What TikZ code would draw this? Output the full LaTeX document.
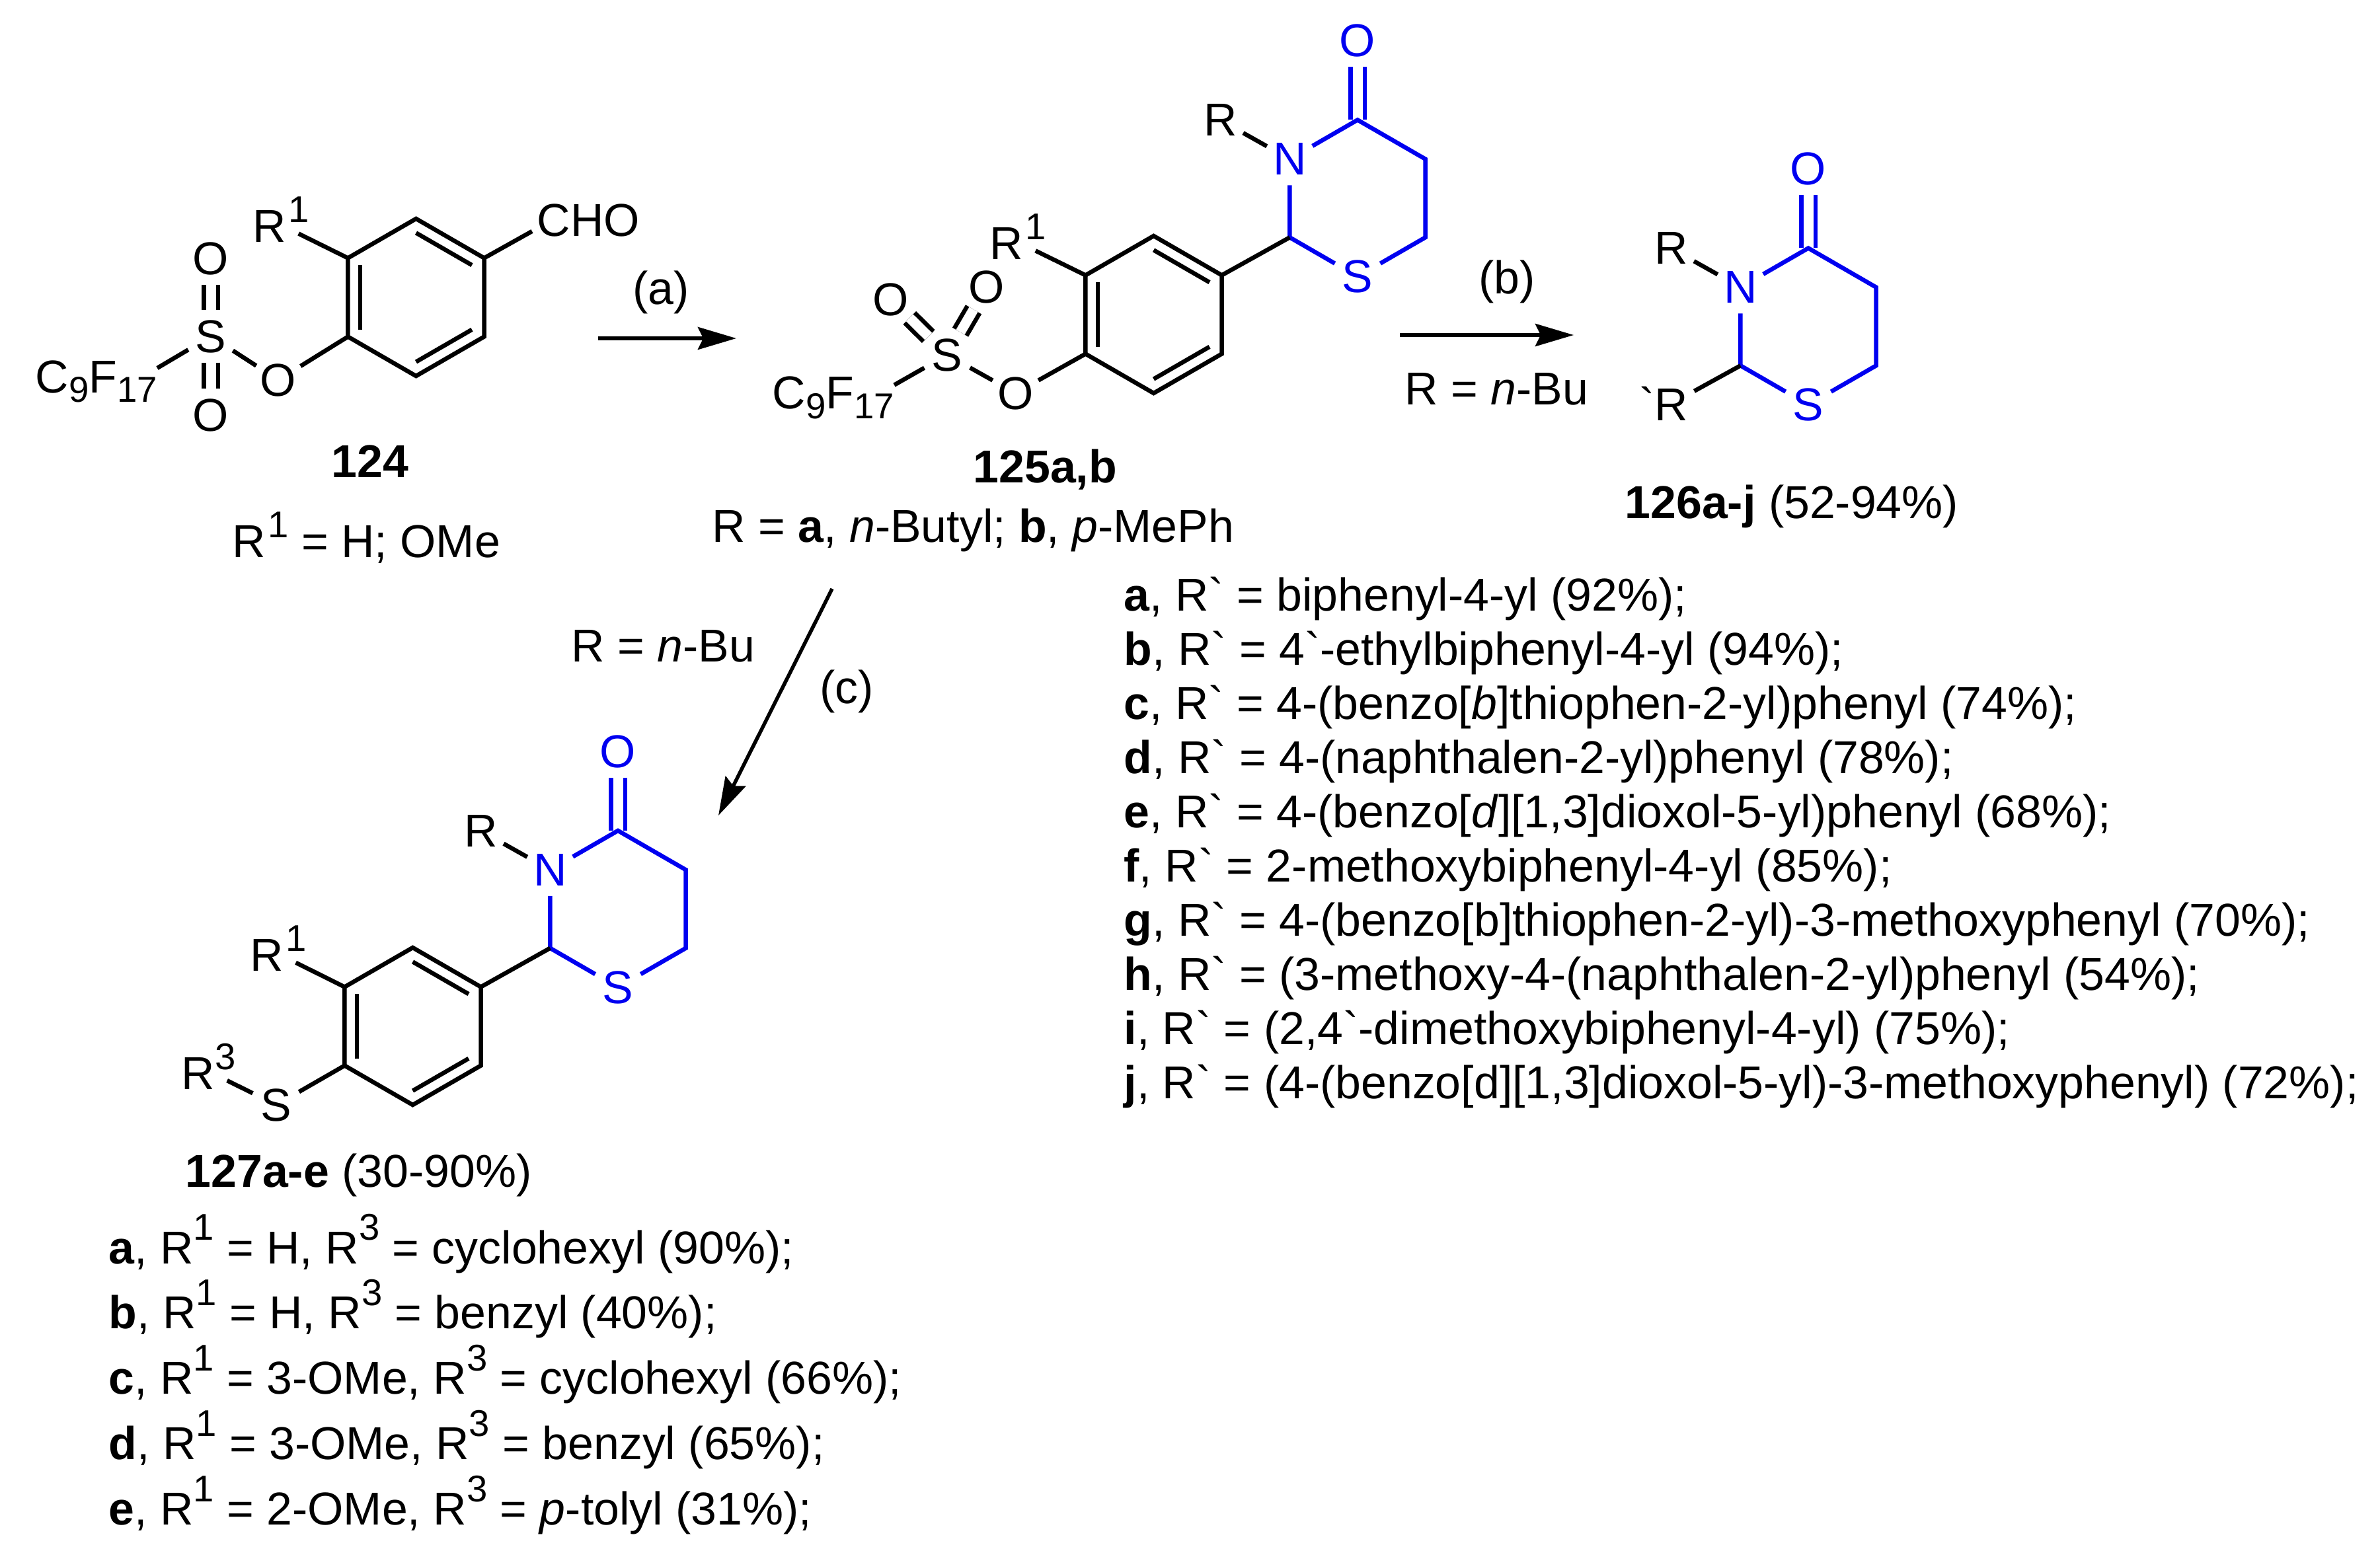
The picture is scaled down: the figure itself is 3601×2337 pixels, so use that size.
\documentclass[tikz,border=0pt]{standalone}
\usepackage{fontspec}
\usetikzlibrary{arrows.meta,calc}
\newfontfamily\arialfont{Liberation Sans}
\definecolor{ringblue}{HTML}{0000F0}
\newcommand{\sps}[1]{\raisebox{8.5pt}{\fontsize{16}{18}\selectfont #1}}
\newcommand{\spl}[1]{\raisebox{10pt}{\fontsize{16}{18}\selectfont #1}}
\newcommand{\sbs}[1]{\raisebox{-4pt}{\fontsize{15.5}{18}\selectfont #1}}

\tikzset{
  every node/.style={font=\arialfont\fontsize{19.85}{24}\selectfont},
  bond/.style={line width=.065cm},
  dblbond/.style={line width=.065cm,double,double distance=.15cm},
  rxnarrow/.style={line width=.055cm,-{Stealth[length=.58cm,width=.34cm,inset=.08cm]}},
  atom/.style={circle,inner sep=0pt,minimum size=.78cm},
  rlabel/.style={atom,minimum size=.96cm},
  txt/.style={inner sep=0pt,anchor=base west},
  ctxt/.style={inner sep=0pt,anchor=base},
}

% #1 name, #2 x, #3 y of the centre: vertices #11 (top) to #16 clockwise
\newcommand{\benzring}[3]{
  \coordinate (#1c) at (#2,#3);
  \foreach \i/\a in {1/-90,2/-30,3/30,4/90,5/150,6/210}
    \coordinate (#1\i) at ($(#1c)+(\a:119)$);
  \draw[bond,line join=miter] (#11) -- (#12) -- (#13) -- (#14) -- (#15) -- (#16) -- cycle;
  \foreach \p/\q in {1/2,3/4,5/6}
    \draw[bond] ($(#1c)!.82!(#1\p)$) -- ($(#1c)!.82!(#1\q)$);
}
\newcommand{\thiaring}[3]{
  \coordinate (#1c) at (#2,#3);
  \foreach \i/\a in {1/-90,2/-30,3/30,4/90,5/150,6/210}
    \coordinate (#1\i) at ($(#1c)+(\a:118.5)$);
  \node[atom,text=ringblue] (#1N) at (#16) {N};
  \node[atom,text=ringblue] (#1S) at (#14) {S};
  \node[atom,text=ringblue] (#1O) at ($(#11)+(0,-120)$) {O};
  \node[atom] (#1R) at ($(#16)+(-105,-59)$) {R};
  \draw[dblbond,ringblue] (#1O) -- (#11);
  \draw[bond,ringblue] (#1N) -- (#11) -- (#12) -- (#13) -- (#1S);
  \draw[bond,ringblue] (#1S) -- (#15) -- (#1N);
  \draw[bond] (#1N) -- (#1R);
}

\begin{document}
\begin{tikzpicture}[x=.01cm,y=-.01cm]
  \useasboundingbox (0,0) rectangle (3601,2337);

  % 124
  \benzring{A}{629.5}{450}
  \node[atom] (S1) at (319,509) {S};
  \node[atom] (O11) at (319,391) {O};
  \node[atom] (O12) at (319,628) {O};
  \node[atom] (O13) at (421,575) {O};
  \node[rlabel] (R1a) at (408,332) {R\rlap{\kern1pt\sps{1}}};
  \node[txt] (cho) at (812,358) {CHO};
  \node[txt] (cfa) at (53,594) {C\sbs{9}F\sbs{17}};
  \coordinate (choend) at (805,350);
  \coordinate (cfaend) at (238,557);
  \draw[dblbond] (S1) -- (O11);
  \draw[dblbond] (S1) -- (O12);
  \draw[bond] (cfaend) -- (S1);
  \draw[bond] (S1) -- (O13);
  \draw[bond] (O13) -- (A5);
  \draw[bond] (A6) -- (R1a);
  \draw[bond] (A2) -- (choend);
  \node[ctxt] (lab124) at (560,722) {\textbf{124}};
  \node[txt] (r1def) at (351,843) {R\kern1pt\sps{1} = H; OMe};

  % 125
  \benzring{B}{1745.5}{476}
  \thiaring{C}{2054}{300}
  \node[atom] (S2) at (1433,537) {S};
  \node[atom] (O21) at (1348,453) {O};
  \node[atom] (O22) at (1493,434) {O};
  \node[atom] (O23) at (1536.5,595) {O};
  \node[rlabel] (R1b) at (1523,358) {R\rlap{\kern1pt\sps{1}}};
  \node[txt] (cfb) at (1168,619) {C\sbs{9}F\sbs{17}};
  \coordinate (cfbend) at (1353,582.6);
  \draw[dblbond] (S2) -- (O21);
  \draw[dblbond] (S2) -- (O22);
  \draw[bond] (cfbend) -- (S2);
  \draw[bond] (S2) -- (O23);
  \draw[bond] (O23) -- (B5);
  \draw[bond] (B6) -- (R1b);
  \draw[bond] (B2) -- (C5);
  \node[txt] (lab125) at (1472,730) {\textbf{125a,b}};
  \node[txt] (rdef) at (1077,820) {R = \textbf{a}, \textit{n}-Butyl; \textbf{b}, \textit{p}-MePh};

  % 126
  \thiaring{D}{2736}{494}
  \node[atom] (Rp) at (2528.6,611) {\llap{`}R};
  \draw[bond] (D5) -- (Rp);
  \node[txt] (lab126) at (2458,784) {\textbf{126a-j} (52-94\%)};

  % 127
  \benzring{E}{624.5}{1553}
  \thiaring{F}{935}{1375.5}
  \node[atom] (S3) at (418,1672) {S};
  \node[rlabel] (R1c) at (404,1435) {R\rlap{\kern1pt\sps{1}}};
  \node[rlabel] (R3) at (300,1613.5) {R\rlap{\sps{3}}};
  \draw[bond] (E6) -- (R1c);
  \draw[bond] (E5) -- (S3);
  \draw[bond] (S3) -- (R3);
  \draw[bond] (E2) -- (F5);
  \node[txt] (lab127) at (280,1796) {\textbf{127a-e} (30-90\%)};

  % arrows
  \coordinate (a0) at (905,512);
  \coordinate (a1) at (1114,512);
  \coordinate (b0) at (2118,507);
  \coordinate (b1) at (2381,507);
  \coordinate (c0) at (1259,891);
  \coordinate (c1) at (1087,1234);
  \draw[rxnarrow] (a0) -- (a1);
  \draw[rxnarrow] (b0) -- (b1);
  \draw[rxnarrow] (c0) -- (c1);
  \node[ctxt] (cona) at (1000,461) {(a)};
  \node[ctxt] (conb) at (2280,445) {(b)};
  \node[ctxt] (conc) at (1281,1064) {(c)};
  \node[txt] (condb) at (2125,613) {R = \textit{n}-Bu};
  \node[txt] (condc) at (864,1001) {R = \textit{n}-Bu};

  % substituents of 126
  \foreach \t [count=\n from 0] in {
    {\textbf{a}, R` = biphenyl-4-yl (92\%);},
    {\textbf{b}, R` = 4`-ethylbiphenyl-4-yl (94\%);},
    {\textbf{c}, R` = 4-(benzo[\textit{b}]thiophen-2-yl)phenyl (74\%);},
    {\textbf{d}, R` = 4-(naphthalen-2-yl)phenyl (78\%);},
    {\textbf{e}, R` = 4-(benzo[\textit{d}][1,3]dioxol-5-yl)phenyl (68\%);},
    {\textbf{f}, R` = 2-methoxybiphenyl-4-yl (85\%);},
    {\textbf{g}, R` = 4-(benzo[b]thiophen-2-yl)-3-methoxyphenyl (70\%);},
    {\textbf{h}, R` = (3-methoxy-4-(naphthalen-2-yl)phenyl (54\%);},
    {\textbf{i}, R` = (2,4`-dimethoxybiphenyl-4-yl) (75\%);},
    {\textbf{j}, R` = (4-(benzo[d][1,3]dioxol-5-yl)-3-methoxyphenyl) (72\%);}}
    \node[txt] (rp\n) at (1700,{924+82.1*\n}) {\t};

  % substituents of 127
  \foreach \t [count=\n from 0] in {
    {\textbf{a}, R\spl{1} = H, R\spl{3} = cyclohexyl (90\%);},
    {\textbf{b}, R\spl{1} = H, R\spl{3} = benzyl (40\%);},
    {\textbf{c}, R\spl{1} = 3-OMe, R\spl{3} = cyclohexyl (66\%);},
    {\textbf{d}, R\spl{1} = 3-OMe, R\spl{3} = benzyl (65\%);},
    {\textbf{e}, R\spl{1} = 2-OMe, R\spl{3} = \textit{p}-tolyl (31\%);}}
    \node[txt] (rt\n) at (164,{1912+98.8*\n}) {\t};
\end{tikzpicture}
\end{document}
